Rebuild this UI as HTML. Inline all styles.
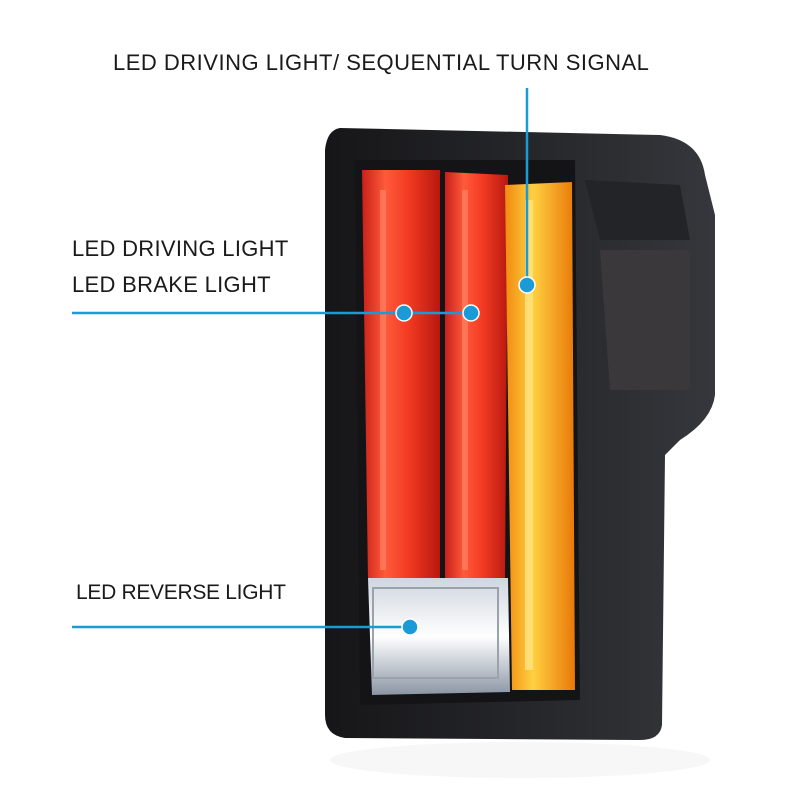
<!DOCTYPE html>
<html><head><meta charset="utf-8"><style>
html,body{margin:0;padding:0;background:#fff;}
.w{position:relative;width:791px;height:795px;overflow:hidden;background:#fff;font-family:"Liberation Sans",sans-serif;}
.t{position:absolute;color:#1a1a1a;font-size:22px;white-space:nowrap;}
</style></head><body><div class="w">
<svg width="791" height="795" style="position:absolute;left:0;top:0">
<defs>
<linearGradient id="red" x1="0" x2="1"><stop offset="0" stop-color="#c8201a"/><stop offset="0.3" stop-color="#ff5a3a"/><stop offset="0.6" stop-color="#f23a22"/><stop offset="1" stop-color="#b81810"/></linearGradient>
<linearGradient id="amb" x1="0" x2="1"><stop offset="0" stop-color="#f08a10"/><stop offset="0.4" stop-color="#ffd040"/><stop offset="1" stop-color="#e87808"/></linearGradient>
<linearGradient id="wht" x1="0" y1="0" x2="0" y2="1"><stop offset="0" stop-color="#cfd6de"/><stop offset="0.5" stop-color="#ffffff"/><stop offset="1" stop-color="#8a96a4"/></linearGradient>
<linearGradient id="body" x1="0" x2="1"><stop offset="0" stop-color="#161618"/><stop offset="0.6" stop-color="#28292d"/><stop offset="1" stop-color="#36373c"/></linearGradient>
</defs>
<ellipse cx="520" cy="760" rx="190" ry="18" fill="#f7f7f8"/>
<path d="M340 128 L660 135 Q700 140 705 175 L715 215 L715 395 Q712 420 680 440 L665 455 L662 725 Q660 740 640 740 L345 738 Q325 735 325 715 L325 150 Q327 130 340 128 Z" fill="url(#body)"/>
<path d="M600 250 L690 250 L690 390 L610 390 Z" fill="#3a383a"/>
<path d="M585 180 L680 185 L690 240 L600 240 Z" fill="#232427"/>
<path d="M355 160 L575 160 L580 700 L360 705 Z" fill="#141416"/>
<path d="M362 170 L440 170 L440 580 L368 580 Z" fill="url(#red)"/>
<path d="M445 172 L508 175 L505 580 L445 580 Z" fill="url(#red)"/>
<rect x="380" y="190" width="6" height="380" fill="#ff8a6a" opacity="0.6"/>
<rect x="462" y="190" width="6" height="380" fill="#ff8a6a" opacity="0.6"/>
<path d="M505 185 L572 182 L575 690 L512 690 Z" fill="url(#amb)"/>
<rect x="525" y="200" width="8" height="470" fill="#ffe890" opacity="0.7"/>
<path d="M368 578 L508 578 L510 692 L372 695 Z" fill="url(#wht)"/>
<rect x="373" y="588" width="125" height="90" fill="none" stroke="#9aa2ac" stroke-width="2"/>
<g stroke="#1a9ad6" stroke-width="2.5" fill="none">
<line x1="72" y1="313" x2="471" y2="313"/>
<line x1="527" y1="88" x2="527" y2="285"/>
<line x1="72" y1="627" x2="410" y2="627"/>
</g>
<g fill="#1a9ad6" stroke="#fff" stroke-width="1.5">
<circle cx="404" cy="313" r="8"/><circle cx="471" cy="313" r="8"/>
<circle cx="527" cy="285" r="8"/><circle cx="410" cy="627" r="8"/>
</g>
</svg>
<div class="t" style="left:113px;top:50px;letter-spacing:0.5px;">LED DRIVING LIGHT/ SEQUENTIAL TURN SIGNAL</div>
<div class="t" style="left:72px;top:236px;letter-spacing:0.3px;">LED DRIVING LIGHT</div>
<div class="t" style="left:72px;top:272px;letter-spacing:0.3px;">LED BRAKE LIGHT</div>
<div class="t" style="left:76px;top:581px;font-size:21px;letter-spacing:-0.3px;">LED REVERSE LIGHT</div>
</div></body></html>
